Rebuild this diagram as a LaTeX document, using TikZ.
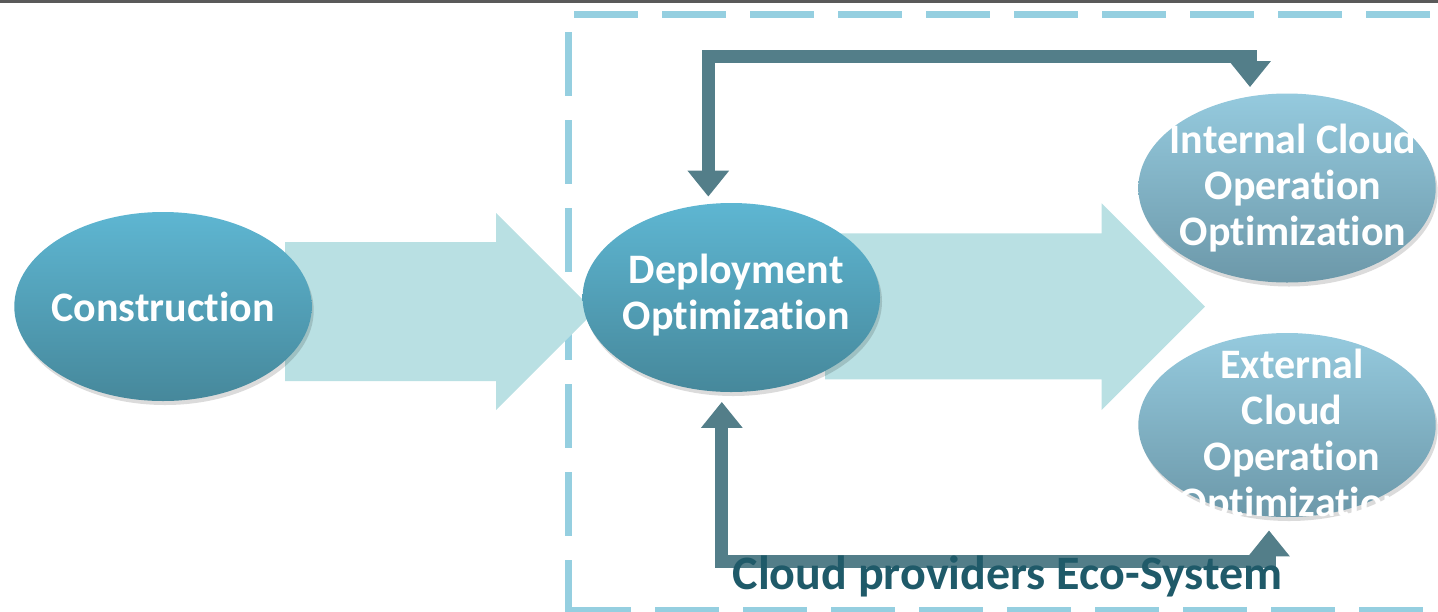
\documentclass[tikz,border=0pt]{standalone}
\usepackage{fontspec}
\setmainfont[Ligatures=NoCommon]{Carlito}
\usetikzlibrary{arrows.meta,shapes.geometric,shadows}
\definecolor{dashblue}{HTML}{95CFE0}
\definecolor{blockfill}{HTML}{B9E0E3}
\definecolor{bubTop}{HTML}{5EB6D2}
\definecolor{bubBot}{HTML}{46889B}
\definecolor{litTop}{HTML}{95CADE}
\definecolor{litBot}{HTML}{6C98A9}
\definecolor{connc}{HTML}{537E89}
\definecolor{titlec}{HTML}{1F5A69}
\definecolor{topgray}{HTML}{5A5A5A}
\begin{document}
\begin{tikzpicture}[x=0.5pt,y=-0.5pt,
  bubble/.style={ellipse, minimum width=148.7pt, minimum height=94.5pt, inner sep=0pt,
    top color=bubTop, bottom color=bubBot, draw=none,
    drop shadow={shadow xshift=1pt, shadow yshift=-2pt, fill=black, opacity=0.14}},
  litbubble/.style={bubble, top color=litTop, bottom color=litBot},
  lbl/.style={text=white, font=\fontsize{21}{23}\selectfont\bfseries, align=center, inner sep=0pt},
  boxdash/.style={draw=dashblue, line width=3.5pt, dash pattern=on 32pt off 12pt},
  blockarrow/.style={fill=blockfill, draw=none},
  conn/.style={draw=connc, line width=6.5pt, line join=miter,
    {Triangle[width=20pt,length=13pt]}-{Triangle[width=20pt,length=13pt]}}
]
\useasboundingbox (0,0) rectangle (1438,611);
% top gray rule
\fill[topgray] (0,0) rectangle (1438,2.5);
% dashed eco-system frame
\draw[boxdash] (574,14) -- (1460,14);
\draw[boxdash] (568,32) -- (568,640);
\draw[boxdash] (567,610.5) -- (1460,610.5);
% block arrows
\path[blockarrow] (285,242) -- (496,242) -- (496,213) -- (594.5,311.5) -- (496,410) -- (496,381) -- (285,381) -- cycle;
\path[blockarrow] (825,233.3) -- (1101.7,233.3) -- (1101.7,203.3) -- (1205,306.7) -- (1101.7,410) -- (1101.7,379.3) -- (825,379.3) -- cycle;
% ellipses
\node[bubble, label={[lbl,name=cont]center:Construction}] (con) at (163,306.5) {};
\node[bubble, label={[lbl,name=dept,xshift=2.5pt,yshift=1pt]center:Deployment\\Optimization}] (dep) at (731.3,297.5) {};
\node[litbubble, label={[lbl,name=intt,xshift=3pt]center:Internal Cloud\\Operation\\Optimization}] (int) at (1287,188) {};
\node[litbubble, minimum height=92pt, label={[lbl,name=extt,xshift=2.5pt,yshift=-5.5pt]center:External\\Cloud\\Operation\\Optimization}] (ext) at (1287,425) {};
% connectors
\draw[conn] ([shift={(-23,-6)}]dep.north) -- ++(0,-140) -| ([shift={(-37,-6)}]int.north);
\draw[conn] ([shift={(-9.5,9.5)}]dep.south) -- ++(0,159.3) -| ([shift={(-18,13)}]ext.south);
% title
\node[anchor=base, inner sep=0pt, text=titlec, font=\fontsize{24}{26}\selectfont\bfseries] (title) at (1007.5,589) {Cloud providers Eco-System};
\end{tikzpicture}
\end{document}
